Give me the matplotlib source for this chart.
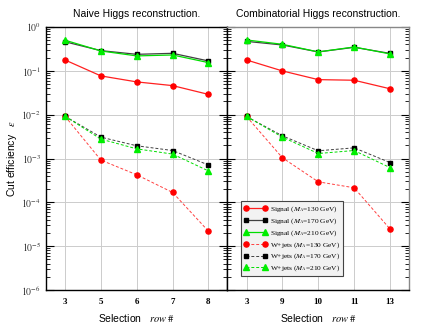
import matplotlib
matplotlib.use("Agg")
import matplotlib.pyplot as plt
import numpy as np
from matplotlib.ticker import LogLocator, NullFormatter, FixedLocator

plt.rcParams['mathtext.fontset'] = 'stix'

# ---- data ----
left_cats = ["3", "5", "6", "7", "8"]
right_cats = ["3", "9", "10", "11", "13"]

left_sig130 = [0.177, 0.0766, 0.0559, 0.046, 0.029]
left_sig170 = [0.46, 0.289, 0.238, 0.251, 0.168]
left_sig210 = [0.50, 0.284, 0.219, 0.23, 0.154]
left_wj130 = [0.0092, 9.2e-4, 4.25e-4, 1.68e-4, 2.19e-5]
left_wj170 = [0.0092, 3.07e-3, 1.95e-3, 1.52e-3, 7.1e-4]
left_wj210 = [0.0092, 2.77e-3, 1.66e-3, 1.26e-3, 5.2e-4]

right_sig130 = [0.177, 0.0995, 0.063, 0.061, 0.039]
right_sig170 = [0.47, 0.389, 0.27, 0.344, 0.25]
right_sig210 = [0.506, 0.403, 0.27, 0.35, 0.243]
right_wj130 = [0.0091, 1.04e-3, 2.94e-4, 2.15e-4, 2.47e-5]
right_wj170 = [0.0091, 3.29e-3, 1.5e-3, 1.75e-3, 8.1e-4]
right_wj210 = [0.0091, 3.07e-3, 1.3e-3, 1.52e-3, 6.2e-4]

titles = ["Naive Higgs reconstruction.", "Combinatorial Higgs reconstruction."]
labels = [r"Signal ($M_A$=130 GeV)", r"Signal ($M_A$=170 GeV)", r"Signal ($M_A$=210 GeV)",
          r"W+jets ($M_A$=130 GeV)", r"W+jets ($M_A$=170 GeV)", r"W+jets ($M_A$=210 GeV)"]

fig = plt.figure(figsize=(4.27, 3.30), dpi=100)
L, R, B, T = 46/427, 409/427, 1-290/330, 1-27/330
mid = 227.5/427
ax1 = fig.add_axes([L, B, mid-L, T-B])
ax2 = fig.add_axes([mid, B, R-mid, T-B])

serif = 'Liberation Serif'
styles = [
    dict(color='#ff2020', marker='o', ls='-', lw=0.9, ms=3.7, mfc='#ff0000', mec='#ff0000'),
    dict(color='#404040', marker='s', ls='-', lw=0.9, ms=3.4, mfc='#000000', mec='#000000'),
    dict(color='#00dd00', marker='^', ls='-', lw=0.9, ms=3.8, mfc='#00ee00', mec='#00ee00'),
    dict(color='#ff4040', marker='o', ls=(0, (3, 2)), lw=0.7, ms=3.7, mfc='#ff0000', mec='#ff0000'),
    dict(color='#404040', marker='s', ls=(0, (3, 2)), lw=0.7, ms=3.4, mfc='#000000', mec='#000000'),
    dict(color='#00dd00', marker='^', ls=(0, (3, 2)), lw=0.7, ms=3.8, mfc='#00ee00', mec='#00ee00'),
]

panels = [
    (ax1, left_cats, [left_sig130, left_sig170, left_sig210, left_wj130, left_wj170, left_wj210]),
    (ax2, right_cats, [right_sig130, right_sig170, right_sig210, right_wj130, right_wj170, right_wj210]),
]

for i, (ax, cats, series) in enumerate(panels):
    x = np.arange(len(cats))
    for s, st, lab in zip(series, styles, labels):
        ax.plot(x, s, label=lab, zorder=3, **st)
    ax.set_yscale('log')
    ax.set_ylim(1e-6, 1)
    ax.set_xlim(-0.53, len(cats) - 0.47)
    ax.set_xticks(x)
    ax.set_xticklabels(cats, fontfamily=serif, fontweight='bold', fontsize=6.5)
    ax.tick_params(axis='x', length=0, pad=6)
    ax.yaxis.set_major_locator(FixedLocator([10.0**k for k in range(-6, 1)]))
    ax.yaxis.set_minor_locator(LogLocator(base=10, subs=np.arange(2, 10), numticks=20))
    ax.yaxis.set_minor_formatter(NullFormatter())
    ax.tick_params(axis='y', which='major', direction='in', length=6, width=0.8, left=True, right=True)
    ax.tick_params(axis='y', which='minor', direction='in', length=3, width=0.6, left=True, right=True)
    if i == 0:
        ax.set_yticklabels([r'$10^{%d}$' % k for k in range(-6, 1)], fontsize=7, color='#333333')
        ax.set_ylabel(r'Cut efficiency   $\varepsilon$', fontsize=7.5, fontfamily='Liberation Sans', labelpad=2)
    else:
        ax.set_yticklabels([])
    ax.grid(True, which='major', color='#cccccc', lw=0.7)
    ax.set_axisbelow(True)
    ax.set_title(titles[i], fontsize=7.5, fontfamily='Liberation Sans', pad=7)
    ax.set_xlabel(r'Selection   $\it{row\ \#}$', fontsize=7.5, fontfamily='Liberation Sans', labelpad=4)
    for sp in ax.spines.values():
        sp.set_linewidth(1.0)

ax2.spines['right'].set_color('#888888')
ax2.spines['top'].set_color('#888888')

leg = ax2.legend(loc='upper left', bbox_to_anchor=(0.073, 0.338), borderaxespad=0,
                 prop={'family': serif, 'size': 5.3}, handlelength=3.2, handletextpad=0.4,
                 labelspacing=0.3, borderpad=0.4, fancybox=False, framealpha=1, numpoints=2)
leg.get_frame().set_facecolor('#f2f2f2')
leg.get_frame().set_edgecolor('#444444')
leg.get_frame().set_linewidth(0.8)

fig.savefig('out.png', dpi=100)
